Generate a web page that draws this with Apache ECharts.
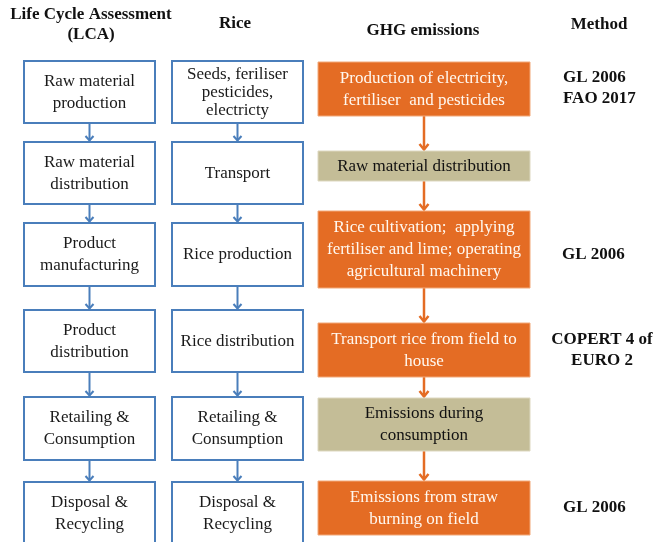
<!DOCTYPE html>
<html>
<head>
<meta charset="utf-8">
<script src="https://cdn.jsdelivr.net/npm/echarts@6/dist/echarts.min.js"></script>
<style>
  html, body { margin: 0; padding: 0; background: #fff; }
  #chart { width: 654px; height: 542px; }
</style>
</head>
<body>
<div id="chart"></div>
<script>
// column headers
const headers = ['Life Cycle Assessment\n(LCA)', 'Rice', 'GHG emissions', 'Method'];

// stages, top to bottom
const lcaStages = [
  'Raw material\nproduction',
  'Raw material\ndistribution',
  'Product\nmanufacturing',
  'Product\ndistribution',
  'Retailing &\nConsumption',
  'Disposal &\nRecycling'
];
const riceStages = [
  'Seeds, feriliser\npesticides,\nelectricty',
  'Transport',
  'Rice production',
  'Rice distribution',
  'Retailing &\nConsumption',
  'Disposal &\nRecycling'
];
const ghgStages = [
  'Production of electricity,\nfertiliser  and pesticides',
  'Raw material distribution',
  'Rice cultivation;  applying\nfertiliser and lime; operating\nagricultural machinery',
  'Transport rice from field to\nhouse',
  'Emissions during\nconsumption',
  'Emissions from straw\nburning on field'
];
// true = emission counted (orange), false = not counted (tan)
const ghgCounted = [true, false, true, true, false, true];
const methods = ['GL 2006\nFAO 2017', '', 'GL 2006', 'COPERT 4 of\nEURO 2', '', 'GL 2006'];

// ---- layout (pixels, 1 axis unit = 1 px) ----
const blueRows = [[61, 123], [142, 204], [223, 286], [310, 372], [397, 460], [482, 545]];
const ghgRows = [[62, 116], [151, 181], [211, 288], [323, 377], [398, 451], [481, 535]];
const lcaX = [24, 155];
const riceX = [172, 303];
const ghgX = [318, 530];
const methodPos = [[563, 88, 'left'], null, [562, 255, 'left'], [602, 350, 'center'], null, [563, 508, 'left']];

const BLUE = '#4A7EBB';
const ORANGE = '#E46C24';
const TAN = '#C4BD97';
const FONT = '"Liberation Serif", "Times New Roman", serif';
const FS = 17;

const boxes = [];
lcaStages.forEach((t, i) => boxes.push({ value: [lcaX[0], blueRows[i][0], lcaX[1], blueRows[i][1]], text: t, kind: 'blue' }));
riceStages.forEach((t, i) => boxes.push({ value: [riceX[0], blueRows[i][0], riceX[1], blueRows[i][1]], text: t, kind: 'blue' }));
ghgStages.forEach((t, i) => boxes.push({ value: [ghgX[0], ghgRows[i][0], ghgX[1], ghgRows[i][1]], text: t, kind: ghgCounted[i] ? 'orange' : 'tan' }));

const arrows = [];
for (let i = 0; i < 5; i++) {
  arrows.push({ value: [(lcaX[0] + lcaX[1]) / 2, blueRows[i][1], blueRows[i + 1][0]], color: BLUE, w: 2 });
  arrows.push({ value: [(riceX[0] + riceX[1]) / 2, blueRows[i][1], blueRows[i + 1][0]], color: BLUE, w: 2 });
  arrows.push({ value: [(ghgX[0] + ghgX[1]) / 2, ghgRows[i][1], ghgRows[i + 1][0]], color: ORANGE, w: 2.5 });
}

const methodData = [];
methods.forEach((m, i) => {
  if (m) methodData.push({ value: [methodPos[i][0], methodPos[i][1]], text: m, align: methodPos[i][2] });
});

function renderBox(params, api) {
  const b = boxes[params.dataIndex];
  const p0 = api.coord([api.value(0), api.value(1)]);
  const p1 = api.coord([api.value(2), api.value(3)]);
  const h = p1[1] - p0[1];
  const nLines = b.text.split('\n').length;
  // squeeze lines when a box is too short for them
  const lh = nLines * 22 > h ? 18 : 22;
  let rectStyle, textFill;
  if (b.kind === 'blue') {
    rectStyle = { fill: '#fff', stroke: BLUE, lineWidth: 2 };
    textFill = '#1a1a1a';
  } else if (b.kind === 'orange') {
    rectStyle = { fill: ORANGE, stroke: '#F2A878', lineWidth: 1 };
    textFill = '#FFF8F0';
  } else {
    rectStyle = { fill: TAN, stroke: '#DDD8C0', lineWidth: 1 };
    textFill = '#111';
  }
  return {
    type: 'group',
    children: [
      {
        type: 'rect',
        shape: { x: p0[0], y: p0[1], width: p1[0] - p0[0], height: h },
        style: rectStyle
      },
      {
        type: 'text',
        x: (p0[0] + p1[0]) / 2,
        y: (p0[1] + p1[1]) / 2 + 0.5,
        style: {
          text: b.text, fill: textFill, fontFamily: FONT, fontSize: FS,
          lineHeight: lh, align: 'center', verticalAlign: 'middle'
        }
      }
    ]
  };
}

function renderArrow(params, api) {
  const a = arrows[params.dataIndex];
  const top = api.coord([api.value(0), api.value(1)]);
  const end = api.coord([api.value(0), api.value(2)]);
  const x = top[0];
  const hw = a.color === ORANGE ? 4.5 : 4;
  const hh = a.color === ORANGE ? 7 : 6;
  return {
    type: 'group',
    children: [
      { type: 'line', shape: { x1: x, y1: top[1], x2: x, y2: end[1] - 1.5 }, style: { stroke: a.color, lineWidth: a.w } },
      { type: 'polyline', shape: { points: [[x - hw, end[1] - hh], [x, end[1] - 1.5], [x + hw, end[1] - hh]] }, style: { stroke: a.color, lineWidth: a.w, fill: null } }
    ]
  };
}

function renderMethod(params, api) {
  const m = methodData[params.dataIndex];
  const p = api.coord([api.value(0), api.value(1)]);
  return {
    type: 'text', x: p[0], y: p[1],
    style: {
      text: m.text, fill: '#111', fontFamily: FONT, fontSize: FS, fontWeight: 'bold',
      lineHeight: 21, align: m.align, verticalAlign: 'middle'
    }
  };
}

const headerStyle = { fill: '#111', fontFamily: FONT, fontSize: FS, fontWeight: 'bold', lineHeight: 20, align: 'center', verticalAlign: 'middle' };

const chart = echarts.init(document.getElementById('chart'));
chart.setOption({
  animation: false,
  grid: { left: 0, right: 0, top: 0, bottom: 0 },
  xAxis: { type: 'value', min: 0, max: 654, show: false },
  yAxis: { type: 'value', min: 0, max: 542, inverse: true, show: false },
  graphic: [
    { type: 'text', x: 91, y: 25, style: Object.assign({ text: headers[0] }, headerStyle) },
    { type: 'text', x: 235, y: 24, style: Object.assign({ text: headers[1] }, headerStyle) },
    { type: 'text', x: 423, y: 31, style: Object.assign({ text: headers[2] }, headerStyle) },
    { type: 'text', x: 599, y: 25, style: Object.assign({ text: headers[3] }, headerStyle) }
  ],
  series: [
    { type: 'custom', coordinateSystem: 'cartesian2d', renderItem: renderArrow, data: arrows.map(a => a.value), silent: true },
    { type: 'custom', coordinateSystem: 'cartesian2d', renderItem: renderBox, data: boxes.map(b => b.value), silent: true },
    { type: 'custom', coordinateSystem: 'cartesian2d', renderItem: renderMethod, data: methodData.map(m => m.value), silent: true }
  ]
});
</script>
</body>
</html>
